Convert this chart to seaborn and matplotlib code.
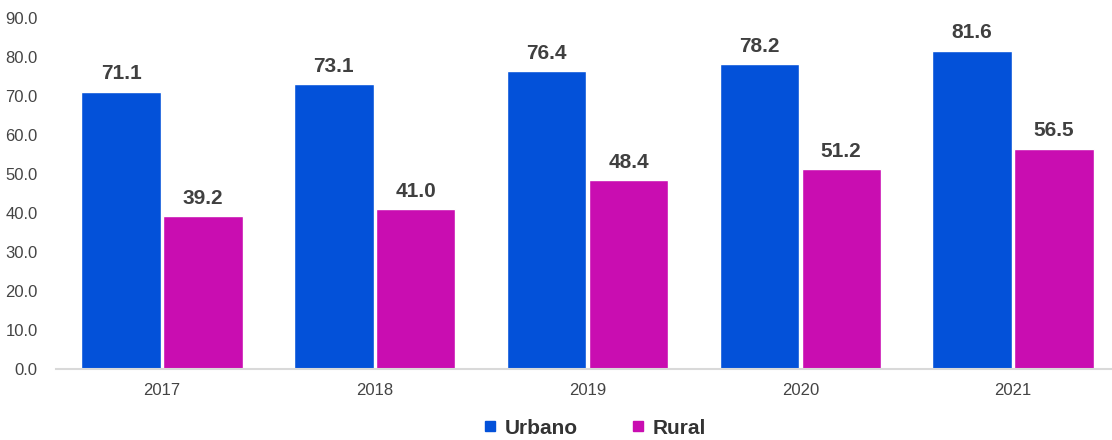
import matplotlib
matplotlib.use("Agg")
import matplotlib.pyplot as plt
import seaborn as sns
import pandas as pd
from matplotlib.lines import Line2D

years = ["2017", "2018", "2019", "2020", "2021"]
urbano = [71.1, 73.1, 76.4, 78.2, 81.6]
rural = [39.2, 41.0, 48.4, 51.2, 56.5]
series_names = ["Urbano", "Rural"]
yticks = [0, 10, 20, 30, 40, 50, 60, 70, 80, 90]

colors = {"Urbano": "#0351d9", "Rural": "#c90db1"}

df = pd.DataFrame({
    "year": years * 2,
    "value": urbano + rural,
    "serie": [series_names[0]] * len(years) + [series_names[1]] * len(years),
})

sns.set_theme(style="white")
plt.rcParams["font.family"] = ["Liberation Sans", "DejaVu Sans"]

fig = plt.figure(figsize=(11.12, 4.40), dpi=100)
ax = fig.add_axes([0.05, 0.1614, 0.95, 0.959 - 0.1614])

sns.barplot(data=df, x="year", y="value", hue="serie", palette=colors,
            width=0.77, gap=0.03, ax=ax, legend=False, errorbar=None,
            saturation=1)

for cont in ax.containers:
    ax.bar_label(cont, fmt="%.1f", padding=6, fontsize=15, fontweight="bold",
                 color="#404040")

ax.set_xlim(-0.5, 4.465)
ax.set_ylim(0, 90)
ax.set_yticks(yticks)
ax.set_yticklabels([f"{v:.1f}" for v in yticks])
ax.set_xlabel("")
ax.set_ylabel("")
ax.tick_params(axis="both", length=0, labelsize=12, labelcolor="#444444")
ax.tick_params(axis="x", pad=10)
ax.tick_params(axis="y", pad=13)
for s in ["top", "right", "left"]:
    ax.spines[s].set_visible(False)
ax.spines["bottom"].set_color("#d9d9d9")
ax.spines["bottom"].set_linewidth(1.5)

handles = [Line2D([0], [0], marker="s", linestyle="", markersize=6.5,
                  markerfacecolor=colors[n], markeredgecolor=colors[n])
           for n in series_names]
leg = fig.legend(handles, series_names, loc="center", bbox_to_anchor=(0.535, 0.027),
                 ncol=2, frameon=False, handlelength=0.6, handletextpad=0.4,
                 columnspacing=2.6, prop={"weight": "bold", "size": 15})
for t in leg.get_texts():
    t.set_color("#333333")

fig.savefig("out.png", dpi=100)
